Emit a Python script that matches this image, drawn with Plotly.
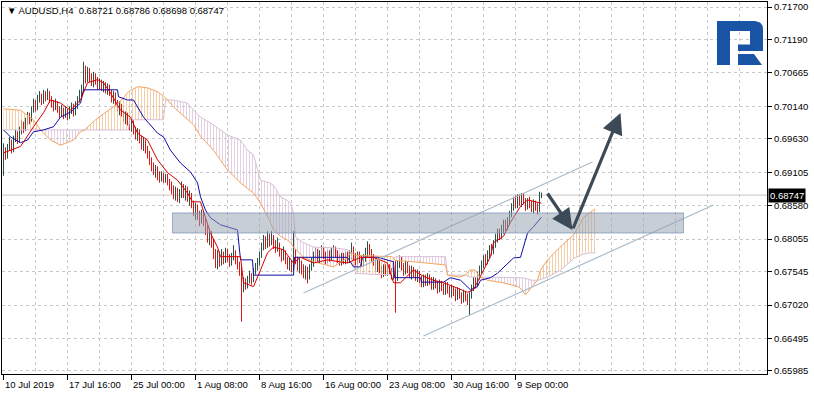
import plotly.graph_objects as go

# ---------------- DATA (prices in pips: value / 10000) ----------------
first_open = 6912
bar_close = [
 6945, 6936, 6950, 6958, 6946, 6962, 6971, 6960, 6976, 6984,
 6978, 6990, 6998, 6992, 7008, 7018, 7012, 7026, 7030, 7022,
 7034, 7028, 7036, 7026, 7018, 7012, 7020, 7010, 7002, 7010,
 7000, 7006, 6998, 7008, 7014, 7004, 7016, 7024, 7034, 7040,
 7066, 7058, 7070, 7060, 7052, 7062, 7054, 7046, 7052, 7044,
 7048, 7040, 7046, 7036, 7028, 7034, 7020, 7012, 7016, 7004,
 6996, 7002, 6990, 6984, 6990, 6978, 6970, 6976, 6964, 6956,
 6962, 6948, 6940, 6930, 6922, 6914, 6918, 6906, 6900, 6906,
 6898, 6904, 6896, 6890, 6884, 6876, 6882, 6872, 6880, 6888,
 6878, 6884, 6872, 6876, 6862, 6850, 6858, 6844, 6836, 6846,
 6834, 6820, 6810, 6816, 6800, 6786, 6772, 6782, 6770, 6780,
 6772, 6784, 6776, 6768, 6778, 6784, 6772, 6766, 6758, 6728,
 6738, 6732, 6742, 6748, 6740, 6754, 6762, 6770, 6780, 6792,
 6802, 6796, 6808, 6800, 6810, 6798, 6790, 6796, 6784, 6778,
 6786, 6772, 6764, 6770, 6760, 6786, 6772, 6764, 6770, 6758,
 6752, 6760, 6748, 6760, 6770, 6778, 6786, 6776, 6782, 6790,
 6780, 6774, 6782, 6776, 6784, 6790, 6782, 6776, 6770, 6778,
 6772, 6780, 6774, 6782, 6790, 6778, 6772, 6780, 6774, 6768,
 6776, 6784, 6794, 6786, 6776, 6770, 6762, 6768, 6758, 6752,
 6760, 6754, 6762, 6756, 6748, 6756, 6744, 6766, 6774, 6762,
 6756, 6766, 6758, 6750, 6758, 6752, 6746, 6752, 6742, 6736,
 6744, 6738, 6746, 6740, 6732, 6740, 6734, 6728, 6736, 6730,
 6724, 6732, 6726, 6720, 6728, 6722, 6716, 6724, 6718, 6712,
 6720, 6714, 6708, 6718, 6728, 6740, 6734, 6748, 6758, 6766,
 6774, 6770, 6782, 6790, 6786, 6798, 6808, 6816, 6810, 6822,
 6830, 6824, 6834, 6844, 6856, 6866, 6860, 6870, 6864, 6872,
 6866, 6858, 6866, 6860, 6854, 6862, 6856, 6850, 6872.1, 6874.7]
bar_high = [
 6956, 6950, 6955, 6966, 6962, 6968, 6978, 6975, 6982, 6992,
 6990, 6996, 7005, 7004, 7014, 7026, 7024, 7032, 7038, 7034,
 7040, 7038, 7042, 7038, 7030, 7024, 7026, 7022, 7014, 7016,
 7012, 7014, 7010, 7014, 7020, 7018, 7022, 7030, 7040, 7048,
 7084, 7078, 7076, 7074, 7066, 7068, 7066, 7060, 7058, 7056,
 7054, 7052, 7050, 7048, 7040, 7038, 7036, 7024, 7022, 7018,
 7008, 7006, 7004, 6996, 6994, 6992, 6982, 6980, 6978, 6968,
 6966, 6962, 6952, 6944, 6934, 6926, 6922, 6920, 6912, 6912,
 6910, 6908, 6908, 6900, 6896, 6890, 6888, 6886, 6884, 6896,
 6892, 6890, 6888, 6882, 6878, 6866, 6862, 6860, 6850, 6852,
 6850, 6838, 6828, 6822, 6818, 6806, 6790, 6788, 6786, 6790,
 6786, 6792, 6790, 6782, 6784, 6796, 6788, 6778, 6770, 6762,
 6746, 6744, 6748, 6756, 6752, 6760, 6768, 6776, 6786, 6800,
 6812, 6810, 6818, 6814, 6818, 6812, 6804, 6808, 6800, 6790,
 6794, 6788, 6778, 6776, 6772, 6818, 6790, 6778, 6776, 6772,
 6766, 6764, 6762, 6766, 6776, 6786, 6792, 6790, 6788, 6796,
 6794, 6786, 6788, 6788, 6792, 6796, 6794, 6788, 6782, 6784,
 6784, 6786, 6786, 6788, 6800, 6794, 6784, 6786, 6786, 6780,
 6782, 6792, 6802, 6798, 6790, 6782, 6776, 6774, 6772, 6764,
 6766, 6766, 6768, 6766, 6760, 6762, 6772, 6772, 6780, 6778,
 6768, 6772, 6770, 6764, 6764, 6762, 6758, 6758, 6756, 6748,
 6750, 6750, 6752, 6750, 6746, 6746, 6744, 6740, 6742, 6740,
 6736, 6738, 6738, 6732, 6734, 6732, 6728, 6730, 6728, 6722,
 6726, 6724, 6720, 6722, 6734, 6746, 6746, 6754, 6764, 6772,
 6780, 6782, 6788, 6796, 6798, 6804, 6814, 6822, 6822, 6828,
 6836, 6836, 6840, 6850, 6862, 6872, 6874, 6876, 6876, 6878,
 6878, 6870, 6870, 6872, 6866, 6868, 6866, 6862, 6880, 6878.6]
bar_low = [
 6905, 6930, 6932, 6945, 6940, 6942, 6958, 6955, 6957, 6970,
 6972, 6975, 6985, 6986, 6990, 7004, 7006, 7008, 7020, 7016,
 7018, 7022, 7024, 7020, 7012, 7006, 7008, 7004, 6996, 6998,
 6994, 6996, 6992, 6994, 7002, 6998, 7000, 7010, 7020, 7028,
 7036, 7050, 7052, 7052, 7046, 7044, 7048, 7040, 7040, 7038,
 7036, 7034, 7032, 7030, 7020, 7018, 7014, 7006, 7000, 6998,
 6990, 6986, 6984, 6976, 6974, 6970, 6962, 6960, 6956, 6946,
 6944, 6940, 6932, 6922, 6912, 6906, 6902, 6898, 6894, 6896,
 6894, 6894, 6890, 6882, 6876, 6868, 6866, 6864, 6862, 6870,
 6870, 6866, 6864, 6858, 6854, 6842, 6836, 6836, 6826, 6830,
 6826, 6812, 6800, 6796, 6792, 6774, 6760, 6758, 6762, 6764,
 6766, 6768, 6770, 6762, 6764, 6772, 6766, 6758, 6748, 6676,
 6722, 6726, 6728, 6736, 6734, 6738, 6750, 6756, 6764, 6776,
 6788, 6790, 6792, 6794, 6796, 6790, 6784, 6786, 6778, 6770,
 6772, 6766, 6758, 6756, 6754, 6756, 6766, 6756, 6752, 6750,
 6744, 6742, 6736, 6742, 6756, 6762, 6770, 6770, 6768, 6776,
 6774, 6766, 6768, 6770, 6772, 6776, 6776, 6768, 6764, 6764,
 6766, 6766, 6768, 6768, 6774, 6772, 6764, 6766, 6768, 6762,
 6762, 6770, 6778, 6780, 6770, 6764, 6756, 6754, 6752, 6744,
 6746, 6748, 6748, 6750, 6742, 6742, 6690, 6740, 6760, 6756,
 6748, 6750, 6752, 6744, 6742, 6746, 6740, 6738, 6736, 6730,
 6730, 6732, 6732, 6734, 6726, 6726, 6728, 6720, 6722, 6724,
 6718, 6718, 6720, 6714, 6714, 6716, 6708, 6710, 6712, 6704,
 6706, 6708, 6702, 6686, 6712, 6724, 6728, 6730, 6742, 6752,
 6760, 6764, 6766, 6776, 6780, 6782, 6792, 6800, 6804, 6806,
 6814, 6818, 6820, 6828, 6840, 6850, 6854, 6854, 6858, 6856,
 6860, 6850, 6852, 6854, 6848, 6846, 6850, 6844, 6848, 6869.8]

# Ichimoku lines (bar index, pips)
tenkan_idx = [0, 8.5, 15, 20, 23.5, 28.5, 33.5, 38.5, 42, 47, 50, 53.5, 58.5, 63.5, 67, 72, 77, 82, 87, 92,
              94.5, 98.5, 103.5, 107, 108.5, 118.5, 120, 125, 128.5, 132, 135, 140, 145, 148.5, 155, 162,
              172, 178.5, 185, 192, 195, 198.5, 205, 210, 215, 220, 225, 232, 235, 238.5, 243.5, 245, 250,
              253.5, 258.5, 262, 269]
tenkan_val = [6941, 6951, 6982, 7004, 7024, 7019, 7008, 7024, 7051, 7056, 7051, 7035, 7008, 6997, 6972, 6961,
              6930, 6910, 6898, 6878, 6864, 6864, 6815, 6793, 6778, 6778, 6737, 6731, 6757, 6784, 6793, 6789,
              6768, 6777, 6768, 6773, 6768, 6777, 6777, 6768, 6737, 6737, 6757, 6747, 6741, 6737, 6731, 6722,
              6726, 6747, 6778, 6800, 6810, 6832, 6857, 6867, 6862]
kijun_idx = [0, 3.5, 8.5, 12, 15, 20, 25, 28.5, 33.5, 38.5, 40, 57, 57.5, 62, 65, 70, 77, 80, 83.5, 88.5,
             93.5, 97, 98.5, 101, 103.5, 108.5, 117, 118.5, 124.5, 125, 145, 145.5, 172, 175, 178.5, 179.5,
             187, 195, 195.5, 208.5, 209, 220, 223.5, 228.5, 233.5, 237, 238.5, 243.5, 247, 252, 255, 258.5,
             262, 265, 269]
kijun_val = [6977, 6966, 6957, 6961, 6974, 6977, 6982, 6997, 7005, 7019, 7040, 7040, 7029, 7024, 7024, 6997,
             6972, 6966, 6945, 6925, 6911, 6894, 6872, 6851, 6839, 6828, 6820, 6773, 6773, 6749, 6749, 6777,
             6777, 6762, 6762, 6777, 6777, 6770, 6745, 6745, 6738, 6738, 6745, 6741, 6726, 6731, 6741, 6745,
             6752, 6768, 6776, 6777, 6815, 6825, 6840]
cloud_idx = [0, 8.5, 15, 18.5, 23.5, 28.5, 35, 38.5, 40.5, 46, 52.5, 57.5, 62.5, 63, 67, 72, 77, 80, 81, 82,
             85, 92, 95, 98.5, 105, 112, 118.5, 122, 125, 128.5, 133, 135, 138.5, 142, 143.5, 145, 146, 150,
             155, 165, 172, 173.5, 176, 185, 194, 195, 196, 205, 215, 221, 222, 228, 231, 233, 236, 238, 242,
             250, 258, 261, 264, 267, 268.5, 272, 278, 282, 285, 288.5, 290, 293.5, 296]
span_a = [7010, 7008, 6993, 6977, 6961, 6953, 6961, 6974, 6977, 6993, 7008, 7019, 7037, 7038, 7045, 7043,
          7037, 7030, 7027, 7024, 7013, 6993, 6985, 6967, 6945, 6914, 6894, 6885, 6878, 6862, 6835, 6820,
          6810, 6804, 6800, 6793, 6790, 6777, 6770, 6762, 6776, 6785, 6780, 6779, 6778, 6776, 6772, 6770,
          6767, 6765, 6749, 6746, 6749, 6757, 6757, 6746, 6741, 6737, 6730, 6718, 6730, 6741, 6757, 6773,
          6792, 6804, 6812, 6831, 6840, 6848, 6853]
span_b = [6977, 6977, 6977, 6977, 6977, 6977, 6977, 6977, 6977, 6977, 6977, 6977, 6977, 6993, 6993, 6993,
          6993, 6993, 7024, 7024, 7024, 7019, 7008, 6997, 6985, 6969, 6961, 6945, 6938, 6898, 6894, 6890,
          6872, 6866, 6862, 6847, 6809, 6800, 6793, 6792, 6789, 6785, 6752, 6750, 6750, 6776, 6778, 6778,
          6778, 6778, 6749, 6749, 6749, 6746, 6746, 6746, 6745, 6745, 6745, 6744, 6741, 6741, 6742, 6746,
          6756, 6766, 6775, 6780, 6782, 6784, 6784]

# Axis labels
date_tick_bars = [0, 32, 64, 96, 128, 160, 192, 224, 256]
date_tick_labels = ["10 Jul 2019", "17 Jul 16:00", "25 Jul 00:00", "1 Aug 08:00", "8 Aug 16:00",
                    "16 Aug 00:00", "23 Aug 08:00", "30 Aug 16:00", "9 Sep 00:00"]
price_ticks = [0.65985, 0.66495, 0.67020, 0.67545, 0.68055, 0.68580, 0.69105, 0.69630, 0.70140,
               0.70665, 0.71190, 0.71700]
symbol_title = "AUDUSD,H4"

# Drawn objects (bar index, price)
zone_bars = [84.5, 340]
zone_prices = [0.68152, 0.68466]
chan_upper_bars = [150, 294.5]
chan_upper_prices = [0.67210, 0.69266]
chan_lower_bars = [210, 355]
chan_lower_prices = [0.66534, 0.68591]
arrow_bars = [271.5, 284.5, 308.5]
arrow_prices = [0.68795, 0.68199, 0.70036]

# ---------------- FIGURE ----------------
W, H = 814, 393
ML, MR, MT, MB = 2, 47, 2, 19
X_RANGE = [-0.75, 381.75]
Y_RANGE = [0.659377, 0.717785]
FONT = "Liberation Sans, Arial, sans-serif"

def px(v):
    return [p / 10000.0 for p in v]

n = len(bar_close)
assert len(bar_high) == n and len(bar_low) == n
assert len(tenkan_idx) == len(tenkan_val) and len(kijun_idx) == len(kijun_val)
assert len(cloud_idx) == len(span_a) == len(span_b)
bar_open = [first_open] + bar_close[:-1]
idx = list(range(n))

fig = go.Figure()

# Cloud hatching, split into runs where A is above B or below it
A_COL, B_COL = "#f4a460", "#d8bfd8"
segs = []
for k in range(len(cloud_idx) - 1):
    up = (span_a[k] + span_a[k + 1]) >= (span_b[k] + span_b[k + 1])
    if segs and segs[-1][0] == up:
        segs[-1][2] = k + 1
    else:
        segs.append([up, k, k + 1])
for up, s, e in segs:
    xs = cloud_idx[s:e + 1]
    col = "#efb57e" if up else "#d6b8d3"
    fig.add_trace(go.Scatter(x=xs, y=px(span_b[s:e + 1]), mode="lines",
                             line=dict(width=0), hoverinfo="skip", showlegend=False))
    fig.add_trace(go.Scatter(x=xs, y=px(span_a[s:e + 1]), mode="lines", fill="tonexty",
                             fillcolor="rgba(0,0,0,0)",
                             fillpattern=dict(shape="|", fgcolor=col, bgcolor="rgba(0,0,0,0)",
                                              size=3, solidity=0.3, fgopacity=0.75),
                             line=dict(width=0), hoverinfo="skip", showlegend=False))

fig.add_trace(go.Scatter(x=cloud_idx, y=px(span_b), mode="lines",
                         line=dict(color=B_COL, width=1), showlegend=False, hoverinfo="skip"))
fig.add_trace(go.Scatter(x=cloud_idx, y=px(span_a), mode="lines",
                         line=dict(color=A_COL, width=1), showlegend=False, hoverinfo="skip"))

# Price bars
fig.add_trace(go.Ohlc(x=idx, open=px(bar_open), high=px(bar_high), low=px(bar_low), close=px(bar_close),
                      increasing=dict(line=dict(color="#2c5146", width=1)),
                      decreasing=dict(line=dict(color="#dd1515", width=1)),
                      tickwidth=0, showlegend=False, hoverinfo="skip"))

# Tenkan / Kijun
fig.add_trace(go.Scatter(x=kijun_idx, y=px(kijun_val), mode="lines",
                         line=dict(color="#0d0da8", width=1), showlegend=False, hoverinfo="skip"))
fig.add_trace(go.Scatter(x=tenkan_idx, y=px(tenkan_val), mode="lines",
                         line=dict(color="#d40000", width=1), showlegend=False, hoverinfo="skip"))

# Channel lines
for bx, by in ((chan_upper_bars, chan_upper_prices), (chan_lower_bars, chan_lower_prices)):
    fig.add_trace(go.Scatter(x=bx, y=by, mode="lines", line=dict(color="#a9bccb", width=1.2),
                             showlegend=False, hoverinfo="skip"))

# Support zone rectangle
fig.add_shape(type="rect", xref="x", yref="y", x0=zone_bars[0], x1=zone_bars[1],
              y0=zone_prices[0], y1=zone_prices[1], fillcolor="rgba(148,161,176,0.52)",
              line=dict(color="rgba(125,150,185,0.75)", width=1), layer="above")

# Current price line
last_close = bar_close[-1] / 10000.0
fig.add_shape(type="line", xref="paper", yref="y", x0=0, x1=1, y0=last_close, y1=last_close,
              line=dict(color="#c4c4c4", width=1), layer="below")

# Arrows
AR_COL = "#3c4a57"
for k in range(len(arrow_bars) - 1):
    fig.add_annotation(x=arrow_bars[k + 1], y=arrow_prices[k + 1], ax=arrow_bars[k], ay=arrow_prices[k],
                       xref="x", yref="y", axref="x", ayref="y", text="", showarrow=True,
                       arrowhead=2, arrowsize=1.3, arrowwidth=3.2, arrowcolor=AR_COL)

# Title
lo, hi = bar_low[-1] / 1e4, bar_high[-1] / 1e4
op = bar_open[-1] / 1e4
fig.add_annotation(xref="paper", yref="paper", x=3 / 765, y=(374 - 11) / 372, xanchor="left",
                   yanchor="middle", showarrow=False,
                   text=f"▼ {symbol_title}  {op:.5f} {hi:.5f} {lo:.5f} {last_close:.5f}",
                   font=dict(family=FONT, size=9.5, color="#000"))

# Date labels (left aligned right of their tick)
for b, lab in zip(date_tick_bars, date_tick_labels):
    fig.add_annotation(x=b, y=0, xref="x", yref="paper", xanchor="left", yanchor="top",
                       yshift=-3, xshift=-1, text=lab, showarrow=False,
                       font=dict(family=FONT, size=9.5, color="#000"))

# Last-price box on the price scale
fig.add_annotation(xref="paper", yref="y", x=1, y=last_close, xanchor="left", yanchor="middle",
                   xshift=1, text=f"{last_close:.5f}", showarrow=False, bgcolor="#000",
                   borderpad=1, font=dict(family=FONT, size=9.5, color="#fff"))

# Logo (pixel geometry converted to paper coordinates)
def lx(x):
    return (x - ML) / (W - ML - MR)

def ly(y):
    return (H - MB - y) / (H - MB - MT)

def poly(pts):
    return "M " + " L ".join(f"{lx(a):.5f},{ly(b):.5f}" for a, b in pts) + " Z"

LOGO = "#1a55a5"
p_shape = [(717, 21), (755, 21), (760, 22.5), (762.5, 25.5), (763, 29), (763, 51), (738, 51), (738, 44.5),
           (750, 44.5), (750, 31), (730, 31), (730, 65), (717, 65)]
leg_shape = [(738, 54), (754, 54), (762, 65), (738, 65)]
for pts in (p_shape, leg_shape):
    fig.add_shape(type="path", xref="paper", yref="paper", path=poly(pts), fillcolor=LOGO,
                  line=dict(width=0), layer="above")

GRID = "#c9c9c9"
fig.update_layout(
    width=W, height=H, margin=dict(l=ML, r=MR, t=MT, b=MB),
    paper_bgcolor="#ffffff", plot_bgcolor="#ffffff", showlegend=False,
    xaxis=dict(range=X_RANGE, tickmode="array", tickvals=list(range(16, 382, 16)), showticklabels=False,
               ticks="", showgrid=True, gridcolor=GRID, griddash="3px,3px", gridwidth=1,
               showline=True, linecolor="#000", linewidth=1, mirror=True, zeroline=False,
               rangeslider=dict(visible=False), fixedrange=True),
    xaxis2=dict(range=X_RANGE, overlaying="x", anchor="y", side="bottom", tickmode="array",
                tickvals=date_tick_bars, ticks="outside", ticklen=5, tickcolor="#000",
                showticklabels=False, showgrid=False, showline=False, zeroline=False),
    yaxis=dict(range=Y_RANGE, side="right", tickmode="array", tickvals=price_ticks,
               ticktext=[f"{v:.5f}" for v in price_ticks], ticks="outside", ticklen=4, tickcolor="#000",
               showgrid=True, gridcolor=GRID, griddash="3px,3px", gridwidth=1,
               showline=True, linecolor="#000", linewidth=1, mirror=True, zeroline=False,
               tickfont=dict(family=FONT, size=9.5, color="#000")),
)
fig.add_trace(go.Scatter(x=[None], y=[None], xaxis="x2", showlegend=False))
fig.write_html("out.html", config={"displayModeBar": False},
               post_script="document.body.style.margin='0';document.body.style.overflow='hidden';")
